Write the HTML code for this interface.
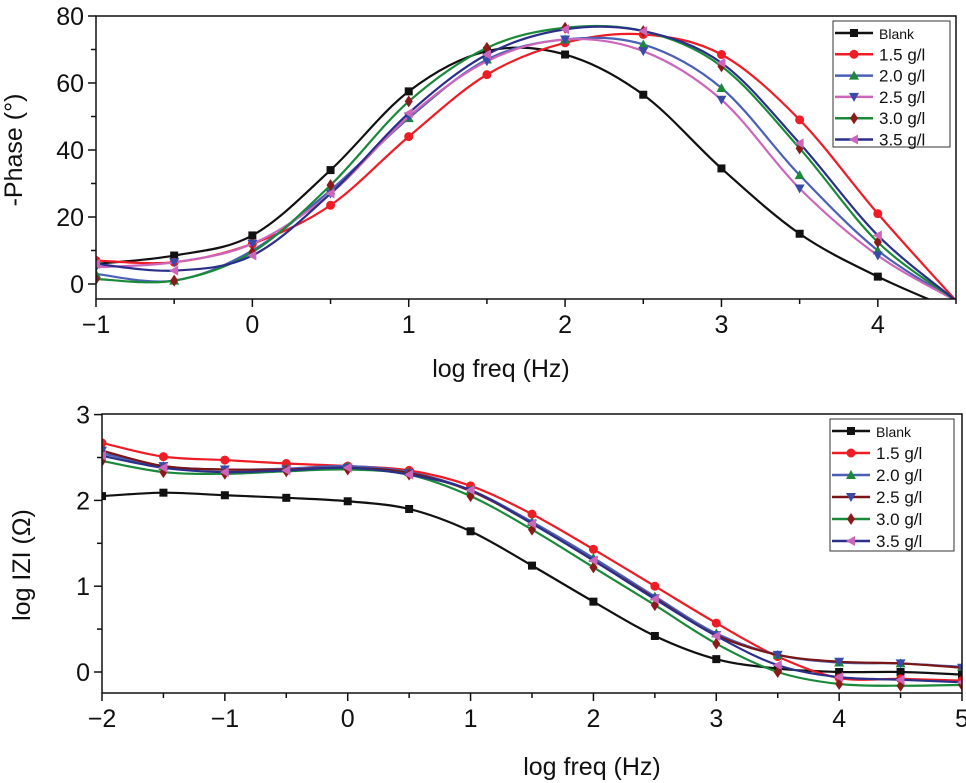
<!DOCTYPE html>
<html><head><meta charset="utf-8"><style>
body{margin:0;background:#fff}
svg{display:block;font-family:"Liberation Sans",sans-serif}
</style></head><body>
<svg id="c" width="966" height="783" xmlns="http://www.w3.org/2000/svg"></svg>
<script>
const seriesNames = ["Blank","1.5 g/l","2.0 g/l","2.5 g/l","3.0 g/l","3.5 g/l"];
const phaseX = [-1,-0.5,0,0.5,1,1.5,2,2.5,3,3.5,4,4.5];
const phaseBlank = [6,8.5,14.5,34,57.5,69.5,68.5,56.5,34.5,15,2.2,-8];
const phase15 = [7,6.5,12,23.5,44,62.5,72,74.5,68.5,49,21,-5];
const phase20 = [3,1,10,28,49.5,67,73,71.5,58.5,32.5,10,-5];
const phase25 = [5,6.5,12,27,50,66.5,73,69.5,55,28.5,8.5,-5];
const phase30 = [1.5,1,9.5,29.5,54.5,70.5,76.5,75.5,65,40.5,12.5,-5];
const phase35 = [6,4,8.5,27,51,68.5,76,75.5,66,42,14.5,-5];
const zX = [-2,-1.5,-1,-0.5,0,0.5,1,1.5,2,2.5,3,3.5,4,4.5,5];
const zBlank = [2.05,2.09,2.06,2.03,1.99,1.9,1.64,1.24,0.82,0.42,0.15,0.04,0.0,0.0,-0.03];
const z15 = [2.67,2.51,2.47,2.43,2.4,2.35,2.17,1.84,1.43,1.0,0.57,0.18,-0.07,-0.08,-0.1];
const z20 = [2.55,2.4,2.36,2.37,2.4,2.33,2.12,1.75,1.33,0.88,0.45,0.2,0.11,0.1,0.06];
const z25 = [2.58,2.4,2.36,2.36,2.38,2.32,2.11,1.73,1.3,0.86,0.43,0.2,0.12,0.1,0.05];
const z30 = [2.46,2.33,2.31,2.34,2.36,2.3,2.05,1.66,1.22,0.78,0.33,0.0,-0.14,-0.16,-0.15];
const z35 = [2.52,2.38,2.33,2.35,2.38,2.3,2.12,1.73,1.3,0.85,0.42,0.08,-0.06,-0.09,-0.12];
const phaseXTicks = [-1,0,1,2,3,4];
const phaseYTicks = [0,20,40,60,80];
const zXTicks = [-2,-1,0,1,2,3,4,5];
const zYTicks = [0,1,2,3];

const NS="http://www.w3.org/2000/svg";
const svg=document.getElementById('c');
function mk(tag,attrs,parent){const e=document.createElementNS(NS,tag);for(const k in attrs)e.setAttribute(k,attrs[k]);(parent||svg).appendChild(e);return e;}
function txt(s,x,y,size,anchor,parent,rot){const t=mk('text',{x:x,y:y,'font-size':size,'text-anchor':anchor||'middle',fill:'#111'},parent);if(rot)t.setAttribute('transform',rot);t.textContent=s;return t;}
function cr(pts){let d='M'+pts[0][0]+','+pts[0][1];for(let i=0;i<pts.length-1;i++){const p0=pts[Math.max(0,i-1)],p1=pts[i],p2=pts[i+1],p3=pts[Math.min(pts.length-1,i+2)];const c1=[p1[0]+(p2[0]-p0[0])/6,p1[1]+(p2[1]-p0[1])/6],c2=[p2[0]-(p3[0]-p1[0])/6,p2[1]-(p3[1]-p1[1])/6];d+=' C'+c1[0]+','+c1[1]+' '+c2[0]+','+c2[1]+' '+p2[0]+','+p2[1];}return d;}
function marker(type,x,y,col,g){const s=5;
 if(type==='sq')return mk('rect',{x:x-4,y:y-4,width:8,height:8,fill:col},g);
 if(type==='ci')return mk('circle',{cx:x,cy:y,r:4.5,fill:col},g);
 let p;
 if(type==='up')p=[[x,y-s],[x+s,y+s*0.8],[x-s,y+s*0.8]];
 if(type==='dn')p=[[x,y+s],[x+s,y-s*0.8],[x-s,y-s*0.8]];
 if(type==='di')p=[[x,y-s-1],[x+s-1,y],[x,y+s+1],[x-s+1,y]];
 if(type==='lt')p=[[x-s,y],[x+s*0.8,y-s],[x+s*0.8,y+s]];
 return mk('polygon',{points:p.map(q=>q.join(',')).join(' '),fill:col},g);}

function chart(o){
 const g=mk('g',{},svg);
 
 
 const X=v=>o.L+(v-o.x0)*(o.R-o.L)/(o.x1-o.x0);
 const Y=v=>o.yz-(v*o.ypu);
 const cid='clip'+o.name;
 const cp=mk('clipPath',{id:cid},g);mk('rect',{x:o.L,y:o.T,width:o.R-o.L,height:o.B-o.T},cp);
 o.series.forEach((s,i)=>{
  const sg=mk('g',{'clip-path':'url(#'+cid+')'},g);
  
  
  const pts=o.xs.map((x,j)=>[X(x),Y(s[j])]);
  mk('path',{d:cr(pts),fill:'none',stroke:o.lc[i],'stroke-width':2.2},sg);
  pts.forEach((p,j)=>{if(o.xs[j]<=o.mmax)marker(o.mk[i],p[0],p[1],o.mc[i],sg);});
 });
 const fr=mk('rect',{x:o.L,y:o.T,width:o.R-o.L,height:o.B-o.T,fill:'none',stroke:'#111','stroke-width':1.5},g);
 
 const xa=mk('g',{},g);
 for(let v=o.x0;v<=o.x1+1e-9;v+=0.5){const x=X(v);const maj=Math.abs(v-Math.round(v))<1e-6;mk('line',{x1:x,y1:o.B,x2:x,y2:o.B+(maj?8:5),stroke:'#111','stroke-width':1.5},xa);}
 o.xt.forEach(v=>txt(v<0?'\u2212'+(-v):String(v),X(v),o.B+34,25,'middle',xa));
 txt('log freq (Hz)',(o.L+o.R)/2-o.lxo,o.B+o.lxy,25,'middle',xa);
 const ya=mk('g',{},g);
 o.yt.forEach((v,i)=>{const y=Y(v);mk('line',{x1:o.L-8,y1:y,x2:o.L,y2:y,stroke:'#111','stroke-width':1.5},ya);txt(String(v),o.L-12,y+9,25,'end',ya);
  if(i<o.yt.length-1){const ym=Y(v+(o.yt[1]-o.yt[0])/2);mk('line',{x1:o.L-5,y1:ym,x2:o.L,y2:ym,stroke:'#111','stroke-width':1.5},ya);}});
 txt(o.ylab,0,0,25,'middle',ya,'translate('+o.ylx+','+o.yly+') rotate(-90)');
 const lg=mk('g',{},g);
 mk('rect',{x:o.lgx,y:o.lgy,width:o.lgw,height:o.lgh,fill:'#fff',stroke:'#333','stroke-width':1},lg);
 seriesNames.forEach((n,i)=>{const y=o.lgy+12+i*o.lgs;const e=mk('g',{},lg);
  
  mk('line',{x1:o.lgx+2,y1:y,x2:o.lgx+40,y2:y,stroke:o.lc[i],'stroke-width':2.5},e);
  marker(o.mk[i],o.lgx+21,y,o.mc[i],e);
  txt(n,o.lgx+46,y+6,i===0?14:17,'start',e);});
}
chart({name:'phase-chart',L:96,R:956,T:16,B:299,x0:-1,x1:4.5,yz:284,ypu:268/80,xs:phaseX,mmax:4,
 series:[phaseBlank,phase15,phase20,phase25,phase30,phase35],
 lc:['#111','#ee1c24','#4a5fb5','#cc66bb','#1a8a3a','#2b2f8a'],
 mc:['#111','#ee1c24','#1a8a3a','#3a4aa8','#8b1a1a','#cc66bb'],
 mk:['sq','ci','up','dn','di','lt'],xt:phaseXTicks,yt:phaseYTicks,ylab:'-Phase (\u00b0)',ylx:22,yly:150,lxo:25,lxy:78,
 lgx:833,lgy:21,lgw:117,lgh:126,lgs:21.3});
chart({name:'impedance-chart',L:102,R:962,T:414,B:693,x0:-2,x1:5,yz:672,ypu:85.8,xs:zX,mmax:5,
 series:[zBlank,z15,z20,z25,z30,z35],
 lc:['#111','#ee1c24','#4a5fb5','#7a1515','#1a8a3a','#2b2f8a'],
 mc:['#111','#ee1c24','#1a8a3a','#3a4aa8','#8b1a1a','#cc66bb'],
 mk:['sq','ci','up','dn','di','lt'],xt:zXTicks,yt:zYTicks,ylab:'log IZI (\u03a9)',ylx:30,yly:565,lxo:-60,lxy:82,
 lgx:830,lgy:419,lgw:124,lgh:132,lgs:22});
</script>
</body></html>
